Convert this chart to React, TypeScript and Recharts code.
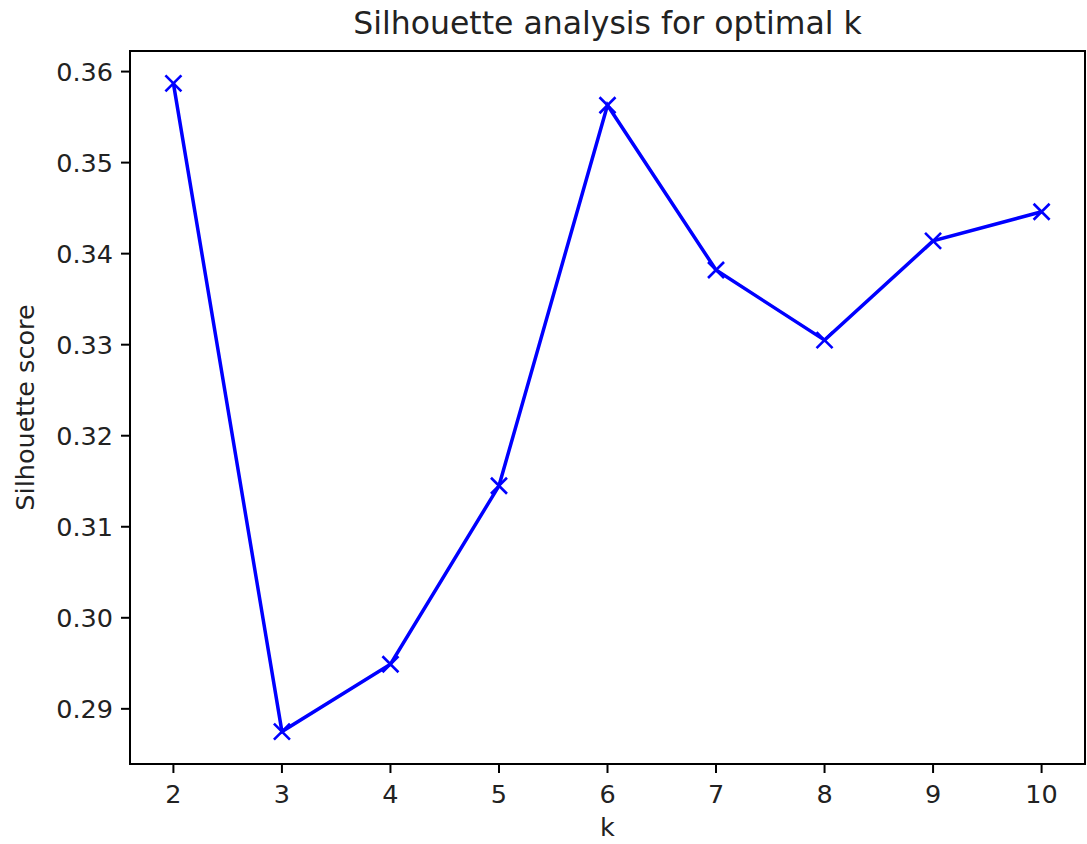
import React from 'react';
import { LineChart, Line, XAxis, YAxis, ReferenceArea } from 'recharts';

// Silhouette scores per number of clusters k
const kValues = [2, 3, 4, 5, 6, 7, 8, 9, 10];
const scores = [0.3587, 0.2875, 0.2949, 0.3145, 0.3563, 0.3382, 0.3305, 0.3414, 0.3446];
const yTicks = [0.29, 0.30, 0.31, 0.32, 0.33, 0.34, 0.35, 0.36];

const data = kValues.map((k, i) => ({ k, score: scores[i] }));

// autoscale with 5% margins on each side
const xMin = Math.min(...kValues);
const xMax = Math.max(...kValues);
const xPad = (xMax - xMin) * 0.05;
const yMin = Math.min(...scores);
const yMax = Math.max(...scores);
const yPad = (yMax - yMin) * 0.05;
const xDomain: [number, number] = [xMin - xPad, xMax + xPad];
const yDomain: [number, number] = [yMin - yPad, yMax + yPad];

const FONT = 'DejaVu Sans';
const TEXT = '#222';
const BLUE = '#0000ff';

const XMarker = (props: any) => {
  const { cx, cy } = props;
  if (cx == null || cy == null) return null;
  const s = 8;
  return (
    <path
      d={`M${cx - s},${cy - s}L${cx + s},${cy + s}M${cx - s},${cy + s}L${cx + s},${cy - s}`}
      stroke={BLUE}
      strokeWidth={2.6}
      fill="none"
    />
  );
};

const YLabel = (props: any) => {
  const vb = props.viewBox || {};
  const cx = 25;
  const cy = vb.y + vb.height / 2;
  return (
    <text
      x={cx}
      y={cy}
      transform={`rotate(-90, ${cx}, ${cy})`}
      textAnchor="middle"
      dominantBaseline="central"
      fontFamily={FONT}
      fontSize={25.5}
      fill={TEXT}
    >
      Silhouette score
    </text>
  );
};

export default function App() {
  return (
    <div style={{ position: 'absolute', left: 0, top: 0, width: 1087, height: 844, background: '#fff' }}>
      <svg width={1087} height={51} style={{ position: 'absolute', left: 0, top: 0 }}>
        <text
          x={607.5}
          y={34}
          textAnchor="middle"
          fontFamily={FONT}
          fontSize={31.5}
          fill={TEXT}
        >
          Silhouette analysis for optimal k
        </text>
      </svg>
      <LineChart
        width={1087}
        height={844}
        data={data}
        margin={{ top: 51, right: 2, bottom: 0, left: 0 }}
      >
        <XAxis
          dataKey="k"
          type="number"
          domain={xDomain}
          ticks={kValues}
          allowDataOverflow
          height={80}
          tickSize={9}
          tickMargin={12}
          stroke="#000"
          strokeWidth={2}
          tick={{ fontFamily: FONT, fontSize: 25.5, fill: TEXT }}
          tickLine={{ stroke: '#000', strokeWidth: 2 }}
          label={{ value: 'k', position: 'insideBottom', offset: 8, fontFamily: FONT, fontSize: 25.5, fill: TEXT }}
        />
        <YAxis
          type="number"
          domain={yDomain}
          ticks={yTicks}
          allowDataOverflow
          width={130}
          tickSize={9}
          tickMargin={8}
          stroke="#000"
          strokeWidth={2}
          tickFormatter={(v: number) => v.toFixed(2)}
          tick={{ fontFamily: FONT, fontSize: 25.5, fill: TEXT }}
          tickLine={{ stroke: '#000', strokeWidth: 2 }}
          label={<YLabel />}
        />
        <ReferenceArea
          x1={xDomain[0]}
          x2={xDomain[1]}
          y1={yDomain[0]}
          y2={yDomain[1]}
          fill="none"
          fillOpacity={0}
          stroke="#000"
          strokeWidth={2}
          ifOverflow="extendDomain"
        />
        <Line
          type="linear"
          dataKey="score"
          stroke={BLUE}
          strokeWidth={3.5}
          dot={<XMarker />}
          activeDot={false}
          isAnimationActive={false}
        />
      </LineChart>
    </div>
  );
}
